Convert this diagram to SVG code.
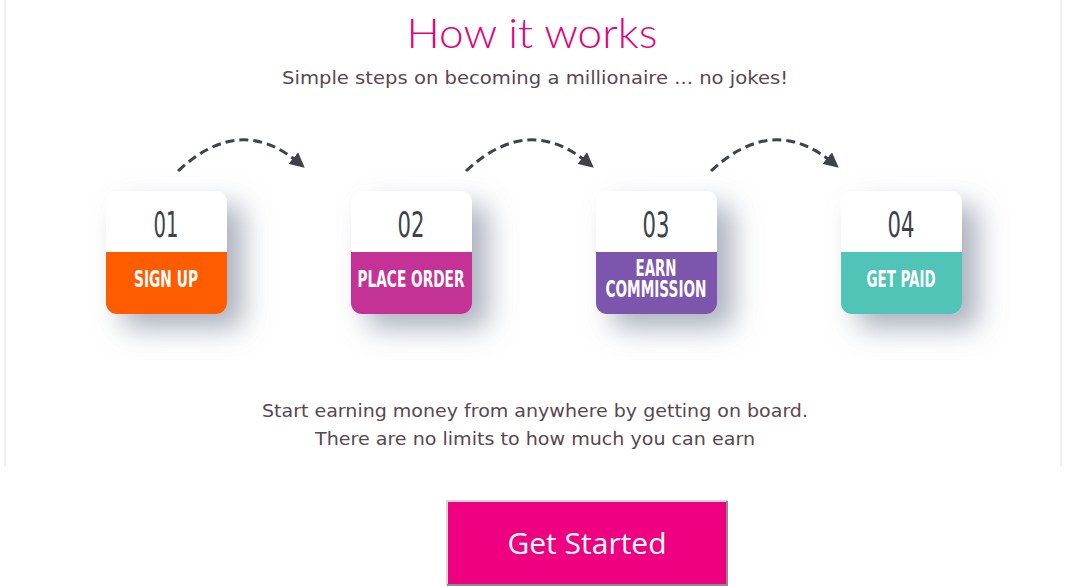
<svg xmlns="http://www.w3.org/2000/svg" width="1073" height="587" viewBox="0 0 1073 587">
<style>
.num{font-family:"DejaVu Sans",sans-serif;font-size:36px;fill:#3d434a;text-anchor:middle}
.lbl{font-family:"DejaVu Sans",sans-serif;font-weight:bold;font-size:23px;fill:#fff;text-anchor:middle}
.txt{font-family:"DejaVu Sans","Noto Sans",sans-serif;font-size:18px;fill:#5a4650;text-anchor:middle}
.arc{fill:none;stroke:#3d434a;stroke-width:3;stroke-dasharray:9 5}
</style>
<defs>
<filter id="sh" x="-50%" y="-50%" width="220%" height="220%">
<feGaussianBlur in="SourceAlpha" stdDeviation="14"/>
<feOffset dx="16" dy="14" result="b"/>
<feFlood flood-color="#7d879a" flood-opacity="0.65"/>
<feComposite in2="b" operator="in"/>
<feMerge><feMergeNode/><feMergeNode in="SourceGraphic"/></feMerge>
</filter>
<marker id="ah" viewBox="0 0 10 10" markerWidth="15" markerHeight="15" refX="5" refY="5" orient="auto" markerUnits="userSpaceOnUse">
<path d="M0,0 L10,5 L0,10 Z" fill="#3d434a"/>
</marker>
<clipPath id="c"><rect x="0" y="0" width="121" height="123" rx="11"/></clipPath>
</defs>
<rect width="1073" height="587" fill="#fff"/>
<rect x="4" y="0" width="2" height="466" fill="#eeeeee"/>
<rect x="1060" y="0" width="2" height="466" fill="#eeeeee"/>
<text x="532" y="48" font-family="Lato,'Noto Sans',sans-serif" font-size="42" font-weight="300" fill="#e6007e" text-anchor="middle" textLength="251" lengthAdjust="spacingAndGlyphs">How it works</text>
<text class="txt" x="535" y="84" textLength="506" lengthAdjust="spacingAndGlyphs">Simple steps on becoming a millionaire ... no jokes!</text>
<g id="connectors">
<path class="arc" d="M178,171 Q240,113 299,163" marker-end="url(#ah)"/>
<path class="arc" d="M466,171 Q528,113 588,163" marker-end="url(#ah)"/>
<path class="arc" d="M711,171 Q773,113 833,163" marker-end="url(#ah)"/>
</g>
<g id="step1" transform="translate(106,191)">
<g filter="url(#sh)"><g clip-path="url(#c)"><rect width="121" height="123" fill="#fff"/><rect y="61" width="121" height="62" fill="#ff5b00"/></g></g>
<text class="num" x="60" y="46" textLength="25" lengthAdjust="spacingAndGlyphs">01</text>
<text class="lbl" x="60" y="96" textLength="64" lengthAdjust="spacingAndGlyphs">SIGN UP</text>
</g>
<g id="step2" transform="translate(351,191)">
<g filter="url(#sh)"><g clip-path="url(#c)"><rect width="121" height="123" fill="#fff"/><rect y="61" width="121" height="62" fill="#c53395"/></g></g>
<text class="num" x="60" y="46" textLength="27" lengthAdjust="spacingAndGlyphs">02</text>
<text class="lbl" x="60" y="96" textLength="107" lengthAdjust="spacingAndGlyphs">PLACE ORDER</text>
</g>
<g id="step3" transform="translate(596,191)">
<g filter="url(#sh)"><g clip-path="url(#c)"><rect width="121" height="123" fill="#fff"/><rect y="61" width="121" height="62" fill="#7b55ad"/></g></g>
<text class="num" x="60" y="46" textLength="27" lengthAdjust="spacingAndGlyphs">03</text>
<text class="lbl" font-size="19"><tspan x="60" y="85" textLength="41" lengthAdjust="spacingAndGlyphs">EARN</tspan><tspan x="60" y="106" textLength="101" lengthAdjust="spacingAndGlyphs">COMMISSION</tspan></text>
</g>
<g id="step4" transform="translate(841,191)">
<g filter="url(#sh)"><g clip-path="url(#c)"><rect width="121" height="123" fill="#fff"/><rect y="61" width="121" height="62" fill="#4fc4b7"/></g></g>
<text class="num" x="60" y="46" textLength="27" lengthAdjust="spacingAndGlyphs">04</text>
<text class="lbl" x="60" y="96" textLength="69" lengthAdjust="spacingAndGlyphs">GET PAID</text>
</g>
<text class="txt" x="535" y="417" textLength="546" lengthAdjust="spacingAndGlyphs">Start earning money from anywhere by getting on board.</text>
<text class="txt" x="535" y="445" textLength="440" lengthAdjust="spacingAndGlyphs">There are no limits to how much you can earn</text>
<g id="button">
<rect x="447" y="501" width="280" height="84" fill="#ee0080"/>
<path d="M447,585 V501 H727" fill="none" stroke="#d8d8d8" stroke-width="2"/>
<path d="M727,501 V585 H447" fill="none" stroke="#8c8c8c" stroke-width="2"/>
<text x="587" y="554" font-family="'Open Sans',sans-serif" font-size="30" fill="#fff" text-anchor="middle">Get Started</text>
</g>
</svg>
